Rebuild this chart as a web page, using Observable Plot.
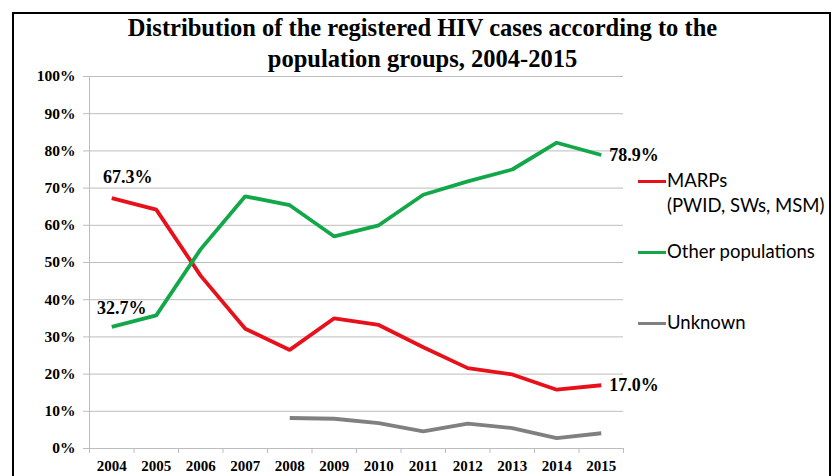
<!DOCTYPE html>
<html>
<head>
<meta charset="utf-8">
<script src="https://cdn.jsdelivr.net/npm/d3@7"></script>
<script src="https://cdn.jsdelivr.net/npm/@observablehq/plot@0.6"></script>
<style>
  html, body { margin: 0; padding: 0; background: #fff; }
  #wrap { position: relative; width: 835px; height: 476px; overflow: hidden; background: #fff; }
  #frame { position: absolute; left: 12px; top: 12px; width: 819px; height: 480px; border: 2px solid #000; box-sizing: border-box; }
  #title { position: absolute; left: 0; top: 12px; width: 845px; text-align: center; font-family: "Liberation Serif", "Times New Roman", serif; font-weight: bold; font-size: 24.5px; line-height: 31px; color: #000; }
  #chart { position: absolute; left: 0; top: 0; }
  .leg { position: absolute; left: 638px; font-family: Lato, "Open Sans", sans-serif; font-size: 18.5px; line-height: 25px; color: #000; }
  .leg .sw { display: inline-block; width: 28px; height: 3.5px; vertical-align: middle; margin-right: 1px; position: relative; top: -1px; }
  .leg .txt { display: inline-block; vertical-align: top; }
</style>
</head>
<body>
<div id="wrap">
  <div id="chart"></div>
  <div id="frame"></div>
  <div id="title">Distribution of the registered HIV cases according to the<br>population groups, 2004-2015</div>
  <div id="legend"></div>
</div>
<script>
const years = [2004, 2005, 2006, 2007, 2008, 2009, 2010, 2011, 2012, 2013, 2014, 2015];
const marps = [67.3, 64.2, 46.4, 32.2, 26.5, 35.0, 33.2, 27.2, 21.6, 19.9, 15.8, 17.0];
const otherPop = [32.7, 35.8, 53.6, 67.8, 65.4, 57.0, 60.0, 68.2, 71.8, 75.0, 82.2, 78.9];
const unknown = [null, null, null, null, 8.2, 8.0, 6.8, 4.6, 6.7, 5.5, 2.8, 4.1];
const seriesNames = ["MARPs", "Other populations", "Unknown"];
const legendLabels = ["MARPs<br>(PWID, SWs, MSM)", "Other populations", "Unknown"];
const seriesColors = ["#e8101a", "#12a84a", "#808080"];
const yTicks = [0, 10, 20, 30, 40, 50, 60, 70, 80, 90, 100];

const allValues = [marps, otherPop, unknown];
const rows = [];
seriesNames.forEach((s, i) => {
  years.forEach((yr, j) => {
    const v = allValues[i][j];
    if (v !== null) rows.push({series: s, year: yr, value: v});
  });
});
const firstLast = rows.filter(d => d.series !== "Unknown" && (d.year === years[0] || d.year === years[years.length - 1]));
const boundaries = years.map(y => y - 0.5).concat([years[years.length - 1] + 0.5]);

const serif = '"Liberation Serif", "Times New Roman", serif';

const chart = Plot.plot({
  width: 835,
  height: 476,
  marginLeft: 89,
  marginRight: 212,
  marginTop: 76,
  marginBottom: 28,
  style: {fontFamily: serif, fontSize: "15px", fontWeight: "bold", color: "#000", background: "transparent"},
  x: {domain: [boundaries[0], boundaries[boundaries.length - 1]]},
  y: {domain: [0, 100]},
  color: {domain: seriesNames, range: seriesColors},
  marks: [
    Plot.gridY({ticks: yTicks, stroke: "#bdbdbd", strokeOpacity: 1, strokeWidth: 1}),
    Plot.ruleX([boundaries[0]], {stroke: "#bdbdbd", strokeWidth: 1}),
    Plot.ruleY([0], {stroke: "#bdbdbd", strokeWidth: 1}),
    Plot.axisY({ticks: yTicks, tickSize: 6, tickPadding: 8, stroke: "#bdbdbd", tickFormat: d => d + "%", label: null, fontSize: 15.5, fontWeight: "bold", fill: "#000"}),
    Plot.axisX({ticks: boundaries, tickSize: 5, stroke: "#bdbdbd", tickFormat: () => "", label: null}),
    Plot.axisX({ticks: years, tickSize: 0, tickPadding: 12, tickFormat: d => String(d), label: null, fontSize: 15, fontWeight: "bold", fill: "#000"}),
    Plot.line(rows, {x: "year", y: "value", z: "series", stroke: "series", strokeWidth: 3.8, strokeLinejoin: "miter", strokeLinecap: "butt"}),
    Plot.text(firstLast.filter(d => d.year === years[0] && d.series === "MARPs"), {x: "year", y: "value", text: d => d.value.toFixed(1) + "%", dy: -21, dx: 16, fontSize: 18, fontWeight: "bold", fill: "#000"}),
    Plot.text(firstLast.filter(d => d.year === years[0] && d.series === "Other populations"), {x: "year", y: "value", text: d => d.value.toFixed(1) + "%", dy: -19, dx: 10, fontSize: 18, fontWeight: "bold", fill: "#000"}),
    Plot.text(firstLast.filter(d => d.year === years[years.length - 1]), {x: "year", y: "value", text: d => d.value.toFixed(1) + "%", dx: 8, dy: 0, textAnchor: "start", fontSize: 18, fontWeight: "bold", fill: "#000"})
  ]
});
document.getElementById("chart").appendChild(chart);

const legendTops = [168, 239, 310];
const legend = document.getElementById("legend");
seriesNames.forEach((s, i) => {
  const div = document.createElement("div");
  div.className = "leg";
  div.style.top = legendTops[i] + "px";
  div.innerHTML = `<span class="sw" style="background:${seriesColors[i]}"></span><span class="txt">${legendLabels[i]}</span>`;
  legend.appendChild(div);
});
</script>
</body>
</html>
